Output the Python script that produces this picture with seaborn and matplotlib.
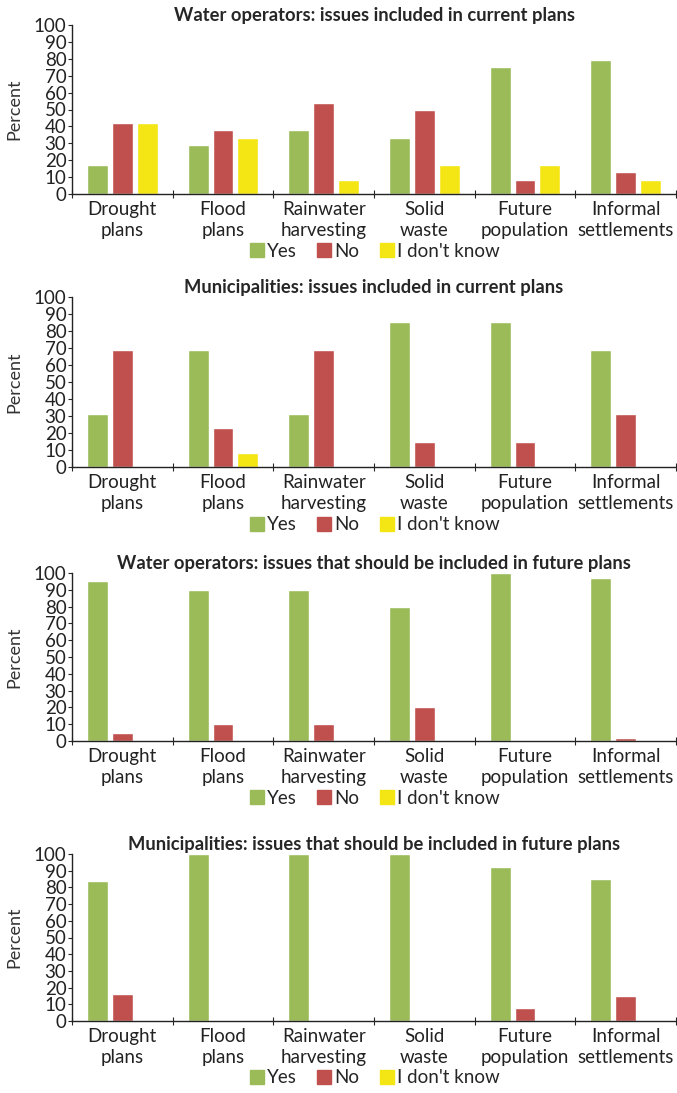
import numpy as np
import pandas as pd
import matplotlib
matplotlib.use("Agg")
import matplotlib.pyplot as plt
from matplotlib import font_manager
from matplotlib.lines import Line2D
from matplotlib.ticker import FixedLocator
import seaborn as sns

# Data
issues = ["Drought\nplans", "Flood\nplans", "Rainwater\nharvesting",
          "Solid\nwaste", "Future\npopulation", "Informal\nsettlements"]
answers = ["Yes", "No", "I don't know"]

titles = [
    "Water operators: issues included in current plans",
    "Municipalities: issues included in current plans",
    "Water operators: issues that should be included in future plans",
    "Municipalities: issues that should be included in future plans",
]

wo_current_yes = [17, 29, 38, 33, 75, 79]
wo_current_no = [42, 38, 54, 50, 8, 13]
wo_current_dk = [42, 33, 8, 17, 17, 8]

mu_current_yes = [31, 69, 31, 85, 85, 69]
mu_current_no = [69, 23, 69, 15, 15, 31]
mu_current_dk = [0, 8, 0, 0, 0, 0]

wo_future_yes = [95, 90, 90, 80, 100, 97]
wo_future_no = [5, 10, 10, 20, 0, 1.5]
wo_future_dk = [0, 0, 0, 0, 0, 0]

mu_future_yes = [84, 100, 100, 100, 92, 85]
mu_future_no = [16, 0, 0, 0, 8, 15]
mu_future_dk = [0, 0, 0, 0, 0, 0]

panels = [
    (wo_current_yes, wo_current_no, wo_current_dk),
    (mu_current_yes, mu_current_no, mu_current_dk),
    (wo_future_yes, wo_future_no, wo_future_dk),
    (mu_future_yes, mu_future_no, mu_future_dk),
]

colors = {"Yes": "#9BBB59", "No": "#C0504D", "I don't know": "#F4E614"}

# narrow-ish font first, DejaVu as backup
available = {f.name for f in font_manager.fontManager.ttflist}
fams = [f for f in ["Liberation Sans Narrow", "Lato", "Roboto"] if f in available]
fams.append("DejaVu Sans")

sns.set_style("white")
plt.rcParams["font.family"] = fams

W, H = 677, 1093
fig = plt.figure(figsize=(W / 100, H / 100), dpi=100)

# axes boxes in pixels: (top of 100, zero line)
boxes = [(25, 194), (297, 467), (573, 741), (854, 1021)]
x0, x1 = 72, 676

for i, (vals, (ytop, ybot)) in enumerate(zip(panels, boxes)):
    rows = []
    for ans, series in zip(answers, vals):
        for iss, v in zip(issues, series):
            rows.append({"issue": iss, "answer": ans, "value": v})
    df = pd.DataFrame(rows)

    ax = fig.add_axes([x0 / W, 1 - ybot / H, (x1 - x0) / W, (ybot - ytop) / H])
    sns.barplot(data=df, x="issue", y="value", hue="answer", order=issues,
                hue_order=answers, palette=colors, width=0.74, gap=0.16,
                ax=ax, legend=False, saturation=1)
    ax.set_xlim(-0.5, 5.5)
    ax.set_ylim(0, 100)
    ax.set_yticks(range(0, 101, 10))
    ax.set_xlabel("")
    ax.set_ylabel("Percent", fontsize=13, color="#333333")
    ax.yaxis.set_label_coords(-0.082, 0.5)
    ax.set_title(titles[i], fontsize=13.2, fontweight="bold", pad=3)
    for s in ["top", "right"]:
        ax.spines[s].set_visible(False)
    for s in ["left", "bottom"]:
        ax.spines[s].set_color("#222222")
        ax.spines[s].set_linewidth(1.0)
    ax.tick_params(axis="y", length=3, width=0.8, pad=1, labelsize=13.5,
                   left=True, labelcolor="#222222")
    ax.tick_params(axis="x", which="major", length=0, pad=5, labelsize=13.5,
                   labelcolor="#222222")
    ax.xaxis.set_minor_locator(FixedLocator(np.arange(-0.5, 6.0, 1.0)))
    ax.tick_params(axis="x", which="minor", length=6, width=0.8,
                   direction="inout", bottom=True)
    for lab in ax.get_xticklabels():
        lab.set_linespacing(1.3)

    handles = [Line2D([], [], marker="s", linestyle="", markersize=10,
                      markerfacecolor=colors[a], markeredgecolor=colors[a])
               for a in answers]
    ax.legend(handles, answers, loc="center", ncol=3, frameon=False,
              bbox_to_anchor=(0.5, -0.34), fontsize=13.5, handletextpad=0.1,
              columnspacing=1.0, handlelength=0.9)

fig.savefig("out.png", dpi=100)
